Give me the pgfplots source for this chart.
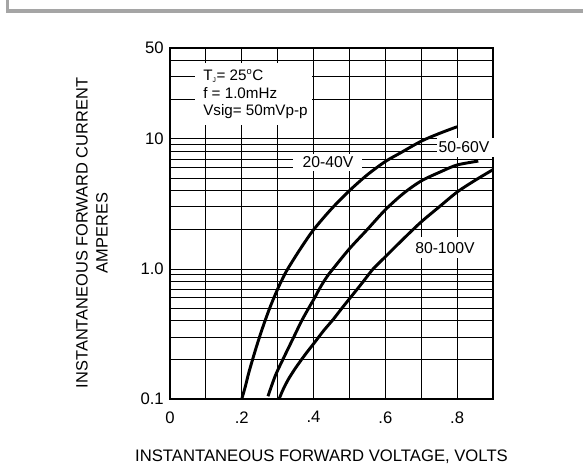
\documentclass[border=0pt]{standalone}
\usepackage{fontspec}
\setmainfont{Liberation Sans}
\usepackage{pgfplots}
\pgfplotsset{compat=1.18}
\definecolor{framegray}{RGB}{165,165,165}
\begin{document}
\begin{tikzpicture}[x=0.75pt,y=0.75pt]
\useasboundingbox (0,0) rectangle (583,466);
% frame
\draw[framegray, line width=2.4pt] (7.5,480) -- (7.5,466-11) -- (600,466-11);
\begin{axis}[
  at={(127.5pt,50.25pt)}, anchor=south west,
  scale only axis, width=242.25pt, height=263.25pt,
  ymode=log, xmin=0, xmax=0.9, ymin=0.1, ymax=50,
  xtick={0,0.2,0.4,0.6,0.8}, xticklabels={0,.2,.4,.6,.8},
  minor xtick={0.1,0.3,0.5,0.7},
  ytick={0.1,1,10,50}, yticklabels={0.1,1.0,10,50},
  minor ytick={0.2,0.3,0.4,0.5,0.6,0.7,0.8,0.9,2,3,4,5,6,7,8,9,20,30,40},
  grid=both,
  major grid style={black, line width=0.6pt},
  minor grid style={black, line width=0.6pt},
  tick style={draw=none},
  axis line style={black, line width=0.8pt},
  /pgf/number format/assume math mode=true,
  ticklabel style={font=\fontsize{12.5}{14}\selectfont},
  xticklabel style={yshift=-5.8pt},
  yticklabel style={xshift=-1.2pt},
]
\addplot[black, line width=2.2pt, smooth, line join=round] coordinates {
(0.200,0.1) (0.210,0.125) (0.220,0.161) (0.240,0.248) (0.260,0.366) (0.280,0.518)
(0.300,0.701) (0.315,0.857) (0.328,1.0) (0.362,1.41) (0.400,2.0) (0.450,2.9)
(0.500,4.0) (0.550,5.3) (0.600,6.7) (0.642,7.8) (0.700,9.6) (0.750,11.0) (0.800,12.4)
};
\addplot[black, line width=2.2pt, smooth, line join=round] coordinates {
(0.273,0.105) (0.293,0.15) (0.314,0.2) (0.345,0.3) (0.367,0.4) (0.3865,0.5)
(0.403,0.6) (0.416,0.7) (0.4285,0.8) (0.441,0.9) (0.454,1.0) (0.500,1.43)
(0.549,2.0) (0.600,2.85) (0.650,3.8) (0.700,4.75) (0.755,5.6) (0.800,6.3) (0.859,6.75)
};
\addplot[black, line width=2.2pt, smooth, line join=round] coordinates {
(0.304,0.1) (0.315,0.118) (0.330,0.142) (0.351,0.175) (0.378,0.222) (0.402,0.27)
(0.428,0.335) (0.455,0.41) (0.478,0.495) (0.500,0.59) (0.520,0.69) (0.540,0.81)
(0.566,1.0) (0.600,1.24) (0.650,1.7) (0.700,2.3) (0.750,3.0) (0.800,3.9)
(0.850,4.8) (0.900,5.8)
};
\end{axis}
% annotation box
\fill[white] (195,466-63) rectangle (312,466-125);
\begin{scope}[every node/.style={font=\fontsize{11.4}{13}\selectfont, inner sep=0pt, anchor=west}]
\node at (203,466-76) {T\textsubscript{\fontsize{5}{6}\selectfont J}= 25\textsuperscript{\fontsize{7}{8}\selectfont o}C};
\node at (203,466-93.5) {f = 1.0mHz};
\node at (203,466-111.5) {Vsig= 50mVp-p};
\end{scope}
% curve labels
\fill[white] (293,466-154) rectangle (362,466-171);
\fill[white] (437,466-138.5) rectangle (500,466-157);
\fill[white] (413,466-237) rectangle (477,466-258);
\begin{scope}[every node/.style={font=\fontsize{11.8}{13}\selectfont, inner sep=0pt}]
\node at (328,466-162.5) {20-40V};
\node at (464,466-147) {50-60V};
\node at (445,466-248.5) {80-100V};
\end{scope}
% axis titles
\node[font=\fontsize{12.5}{13}\selectfont, inner sep=0pt] at (321.5,466-457) {INSTANTANEOUS\ FORWARD\ VOLTAGE,\ VOLTS};
\node[font=\fontsize{12.3}{15}\selectfont, inner sep=0pt, align=center, rotate=90] at (92,466-233) {INSTANTANEOUS FORWARD CURRENT\\AMPERES};
\end{tikzpicture}
\end{document}
